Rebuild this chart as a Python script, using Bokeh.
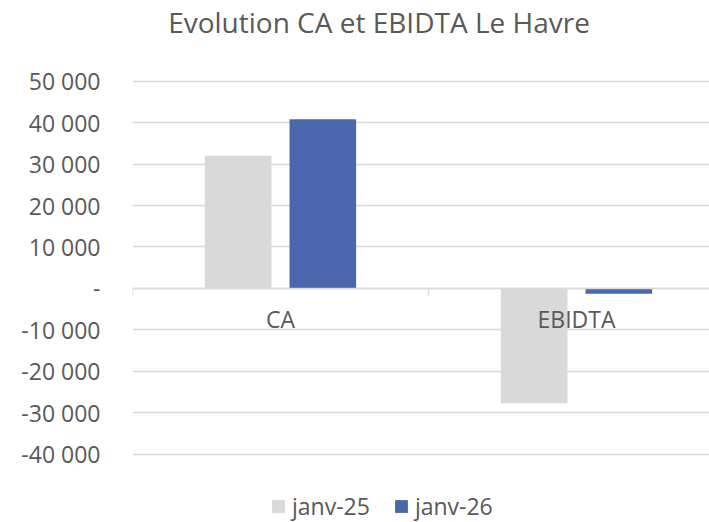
from bokeh.plotting import figure
from bokeh.models import (Range1d, FixedTicker, ColumnDataSource, Span,
                          Legend, LegendItem, Label)
from bokeh.core.properties import value
from bokeh.embed import file_html
from bokeh.resources import INLINE

# ---- data ----
categories = ["CA", "EBIDTA"]
janv25 = [32000, -27700]
janv26 = [40800, -1300]
series_names = ["janv-25", "janv-26"]
y_ticks = [-40000, -30000, -20000, -10000, 0, 10000, 20000, 30000, 40000, 50000]
y_tick_labels = ["-40 000", "-30 000", "-20 000", "-10 000", "-",
                 "10 000", "20 000", "30 000", "40 000", "50 000"]
title_text = "Evolution CA et EBIDTA Le Havre"

# ---- layout / style ----
W, H = 709, 522
LEFT = 132                 # frame left edge (px)
AX_TOP_PX, AX_BOT_PX = 80.7, 453.7   # pixel rows of the axis max / min
AX_MIN, AX_MAX = y_ticks[0], y_ticks[-1]
CAT_PX = 296               # width of one category (px)
FONT = "Open Sans"
TXT = "#595959"
GRID = "#d9d9d9"
C25 = "#d9d9d9"
C26 = "#4a66ac"
BAR_W = 0.225
OFF = 0.143

per_px = (AX_MAX - AX_MIN) / (AX_BOT_PX - AX_TOP_PX)
y_start = AX_MIN - (H - AX_BOT_PX) * per_px
y_end = AX_MAX + AX_TOP_PX * per_px

n = len(categories)
centers = [i + 0.5 for i in range(n)]
bounds = [float(i) for i in range(n + 1)]

src = ColumnDataSource(dict(
    x25=[c - OFF for c in centers],
    x26=[c + OFF for c in centers],
    v25=janv25,
    v26=janv26,
))
cat_src = ColumnDataSource(dict(x=centers, y=[0] * n, t=categories))
tick_src = ColumnDataSource(dict(x=bounds, y=[0] * len(bounds)))

p = figure(width=W, height=H, output_backend="svg", toolbar_location=None,
           x_range=Range1d(0, (W - LEFT) / CAT_PX), y_range=Range1d(y_start, y_end),
           x_axis_location=None, min_border_left=LEFT, min_border_right=0,
           min_border_top=0, min_border_bottom=0)
p.outline_line_color = None
p.background_fill_color = "white"
p.border_fill_color = "white"

# y axis
ya = p.yaxis[0]
ya.ticker = FixedTicker(ticks=y_ticks)
ya.major_label_overrides = dict(zip(y_ticks, y_tick_labels))
ya.major_label_text_font = FONT
ya.major_label_text_font_size = "23px"
ya.major_label_text_color = TXT
ya.major_tick_line_color = None
ya.major_tick_in = 0
ya.major_tick_out = 0
ya.minor_tick_line_color = None
ya.axis_line_color = None
ya.major_label_standoff = 32

p.xgrid.grid_line_color = None
p.ygrid.ticker = FixedTicker(ticks=y_ticks)
p.ygrid.grid_line_color = GRID
p.ygrid.grid_line_width = 1.5

# category axis line at zero with boundary ticks
p.add_layout(Span(location=0, dimension="width", line_color=GRID, line_width=1.5))
p.ray(x="x", y="y", length=7, length_units="screen", angle=-90, angle_units="deg",
      line_color=GRID, line_width=1.5, source=tick_src)

r25 = p.vbar(x="x25", top="v25", bottom=0, width=BAR_W, source=src,
             fill_color=C25, line_color=None)
r26 = p.vbar(x="x26", top="v26", bottom=0, width=BAR_W, source=src,
             fill_color=C26, line_color=None)

# category labels (drawn over the bars)
p.text(x="x", y="y", text="t", source=cat_src, y_offset=31,
       text_align="center", text_baseline="middle",
       text_font=value(FONT), text_font_size="23px", text_color=TXT)

# title
p.add_layout(Label(x=246.5, y=H - 21, x_units="screen", y_units="screen",
                   text=title_text, text_align="center", text_baseline="middle",
                   text_font=FONT, text_font_size="28px", text_color=TXT))

legend = Legend(items=[LegendItem(label=series_names[0], renderers=[r25]),
                       LegendItem(label=series_names[1], renderers=[r26])],
                location=(138, 0), orientation="horizontal",
                glyph_width=16, glyph_height=16, label_standoff=6, spacing=23,
                padding=0, margin=0,
                label_text_font=FONT, label_text_font_size="23px",
                label_text_color=TXT,
                background_fill_alpha=0, border_line_color=None)
p.add_layout(legend, "center")

open("out.html", "w").write(file_html(p, INLINE))
